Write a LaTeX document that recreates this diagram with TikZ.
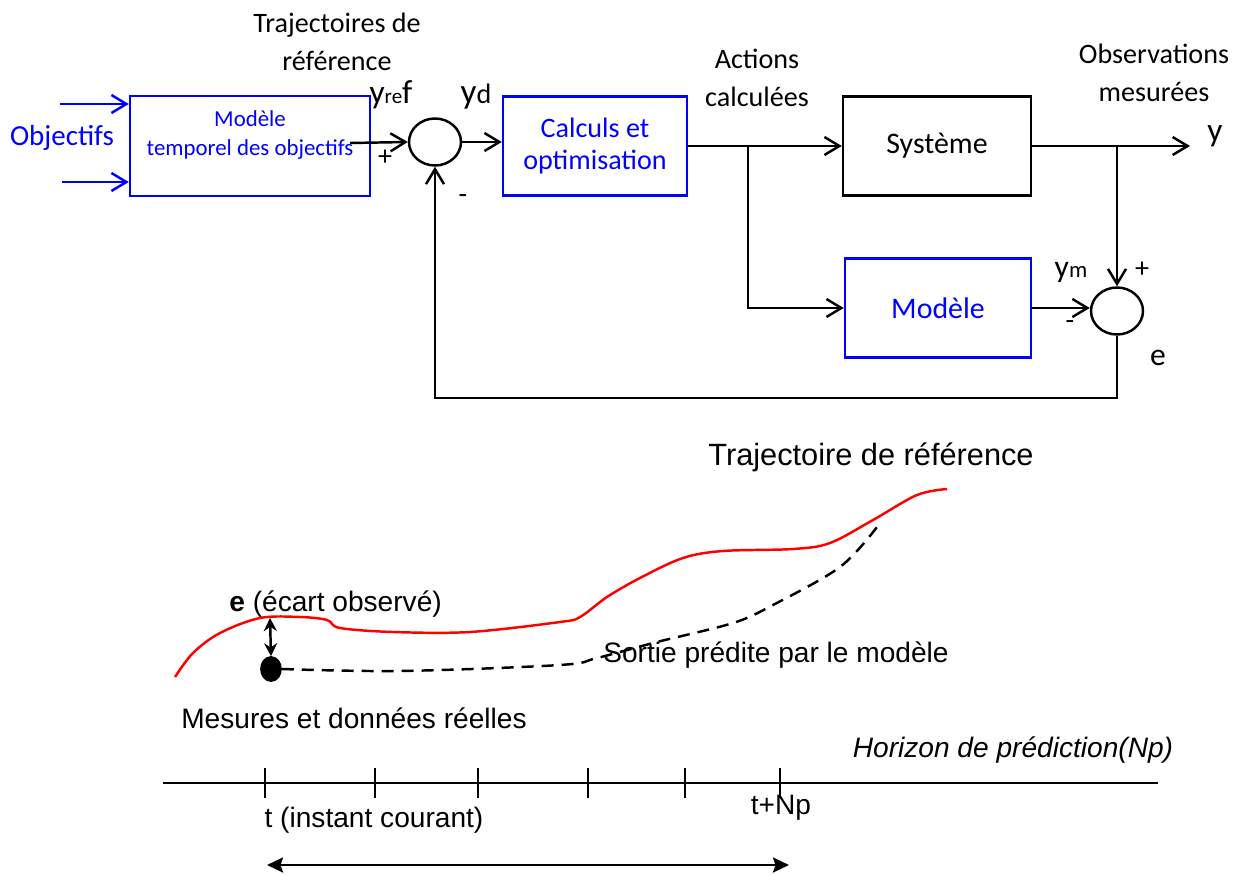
\documentclass[tikz,border=0pt]{standalone}
\usepackage{fontspec}
\setmainfont{Carlito}
\newfontfamily\arialfont{Liberation Sans}
\usetikzlibrary{shapes.geometric,arrows.meta}

\begin{document}
\begin{tikzpicture}[x=0.02cm, y=-0.02cm,
    bluebox/.style={rectangle, draw=blue, line width=1.4pt, text=blue, align=center},
    blackbox/.style={rectangle, draw, line width=1.4pt, align=center},
    sumnode/.style={ellipse, draw, line width=1.4pt, minimum width=1.04cm, minimum height=0.94cm, inner sep=0pt},
    sig/.style={line width=1.4pt, -{Straight Barb[length=0.3cm, width=0.36cm]}},
    cal/.style={font=\fontsize{16}{22}\selectfont, align=center},
    ari/.style={font=\arialfont\fontsize{16}{19}\selectfont, inner sep=0pt}]
    \useasboundingbox (0,0) rectangle (1242,875);

    % Control loop
    \node[cal, text=blue, font=\fontsize{16.5}{20}\selectfont] (obj) at (62,138) {Objectifs};
    \node[bluebox, minimum width=4.8cm, minimum height=2cm] (mtemp) at (250,146) {};
    \node[text=blue, font=\fontsize{13}{17}\selectfont, align=center] (mtemptxt) at (250,135) {Modèle\\temporel des objectifs};
    \node[sumnode] (s1) at (435,142) {};
    \node[bluebox, font=\fontsize{16}{18}\selectfont, minimum width=3.68cm, minimum height=1.98cm] (calc) at (595,146) {Calculs et\\optimisation};
    \node[blackbox, font=\fontsize{17}{20}\selectfont, minimum width=3.76cm, minimum height=1.98cm] (sys) at (937,146) {Système};
    \node[bluebox, font=\fontsize{17}{20}\selectfont, minimum width=3.72cm, minimum height=1.98cm] (mod) at (938,308) {Modèle};
    \node[sumnode] (s2) at (1117,311) {};

    \coordinate (in1) at (60,104);
    \coordinate (in2) at (62,182);
    \coordinate (yr) at (350,143);
    \coordinate (br1) at (748,146);
    \coordinate (br2) at (1117,146);
    \coordinate (yout) at (1190,146);
    \coordinate (fb) at (1117,398);

    % Arrows
    \draw[sig, blue] (in1) -- (in1 -| mtemp.west);
    \draw[sig, blue] (in2) -- (in2 -| mtemp.west);
    \draw[sig] (yr) -- (s1.west);
    \draw[sig] (s1.east) -- (s1.east -| calc.west);
    \draw[sig] (calc.east) -- (sys.west);
    \draw[sig] (br1) |- (mod.west);
    \draw[sig] (sys.east) -- (yout);
    \draw[sig] (br2) -- (s2.north);
    \draw[sig] (mod.east) -- (mod.east -| s2.west);
    \draw[sig] (s2.south) -- (fb) -| (s1.south);

    % Signal labels
    \node[cal] (trajs) at (337,42) {Trajectoires de\\référence};
    \node[cal] (act) at (757,78) {Actions\\calculées};
    \node[cal] (obs) at (1154,73) {Observations\\mesurées};
    \node[inner sep=0pt] (yreflbl) at (391,95) {\fontsize{19}{20}\selectfont y\fontsize{12}{12}\selectfont re\fontsize{19}{20}\selectfont f};
    \node[inner sep=0pt] (ydlbl) at (476,97) {\fontsize{20}{20}\selectfont y\fontsize{16}{16}\selectfont d};
    \node[inner sep=0pt] (ylbl) at (1215,136) {\fontsize{19}{20}\selectfont y};
    \node[inner sep=0pt] (ymlbl) at (1071,272) {\fontsize{18}{20}\selectfont y\fontsize{13}{13}\selectfont m};
    \node[inner sep=0pt, font=\fontsize{18}{20}\selectfont] (elbl) at (1158,358) {e};
    \node[cal] (p1) at (385,158) {+};
    \node[cal] (m1) at (463,199) {-};
    \node[cal] (p2) at (1142,270) {+};
    \node[cal] (m2) at (1070,325) {-};

    % Prediction horizon
    \node[ari, font=\arialfont\fontsize{17.5}{21}\selectfont] (trajlbl) at (871,457) {Trajectoire de référence};
    \draw[red, line width=1.4pt] plot[smooth, tension=0.55] coordinates {(175,677) (193,653) (220,633) (260,618) (300,617) (327,620) (340,628) (393,632) (470,632) (560,622) (580,617) (607,597) (640,578) (683,558) (723,551) (793,549) (830,543) (873,520) (917,495) (947,489)};
    \node[ellipse, draw, line width=6pt, minimum width=0.22cm, minimum height=0.3cm, inner sep=0pt] (mes) at (271,669) {};
    \draw[line width=1.4pt, dash pattern=on 0.24cm off 0.16cm] plot[smooth, tension=0.55] coordinates {(mes.east) (400,671) (560,665) (597,658) (657,642) (733,623) (773,605) (840,567) (877,527)};
    \coordinate (ref0) at (270,618);
    \draw[line width=1.4pt, {Stealth[length=0.26cm, width=0.26cm]}-{Stealth[length=0.26cm, width=0.26cm]}] (ref0) -- (mes.north);
    \node[ari, anchor=west] (ecart) at (229,604) {\textbf{e} (écart observé)};
    \node[ari] (sortie) at (776,655) {Sortie prédite par le modèle};
    \node[ari] (mesures) at (354,718) {Mesures et données réelles};
    \node[ari, font=\arialfont\itshape\fontsize{16}{19}\selectfont] (horiz) at (1013,750) {Horizon de prédiction(Np)};

    % Time axis
    \coordinate (ax0) at (163,783);
    \coordinate (ax1) at (1158,783);
    \draw[line width=1.4pt] (ax0) -- (ax1);
    \foreach \xt in {265,375,478,588,685,780}
        \draw[line width=1.4pt] (\xt,768) -- (\xt,798);
    \node[ari] (tnow) at (374,820) {t (instant courant)};
    \node[ari] (tnp) at (781,808) {t+Np};
    \coordinate (hz0) at (267,865);
    \coordinate (hz1) at (789,865);
    \draw[line width=1.4pt, {Stealth[length=0.32cm, width=0.3cm, inset=0.05cm]}-{Stealth[length=0.32cm, width=0.3cm, inset=0.05cm]}] (hz0) -- (hz1);
\end{tikzpicture}
\end{document}
